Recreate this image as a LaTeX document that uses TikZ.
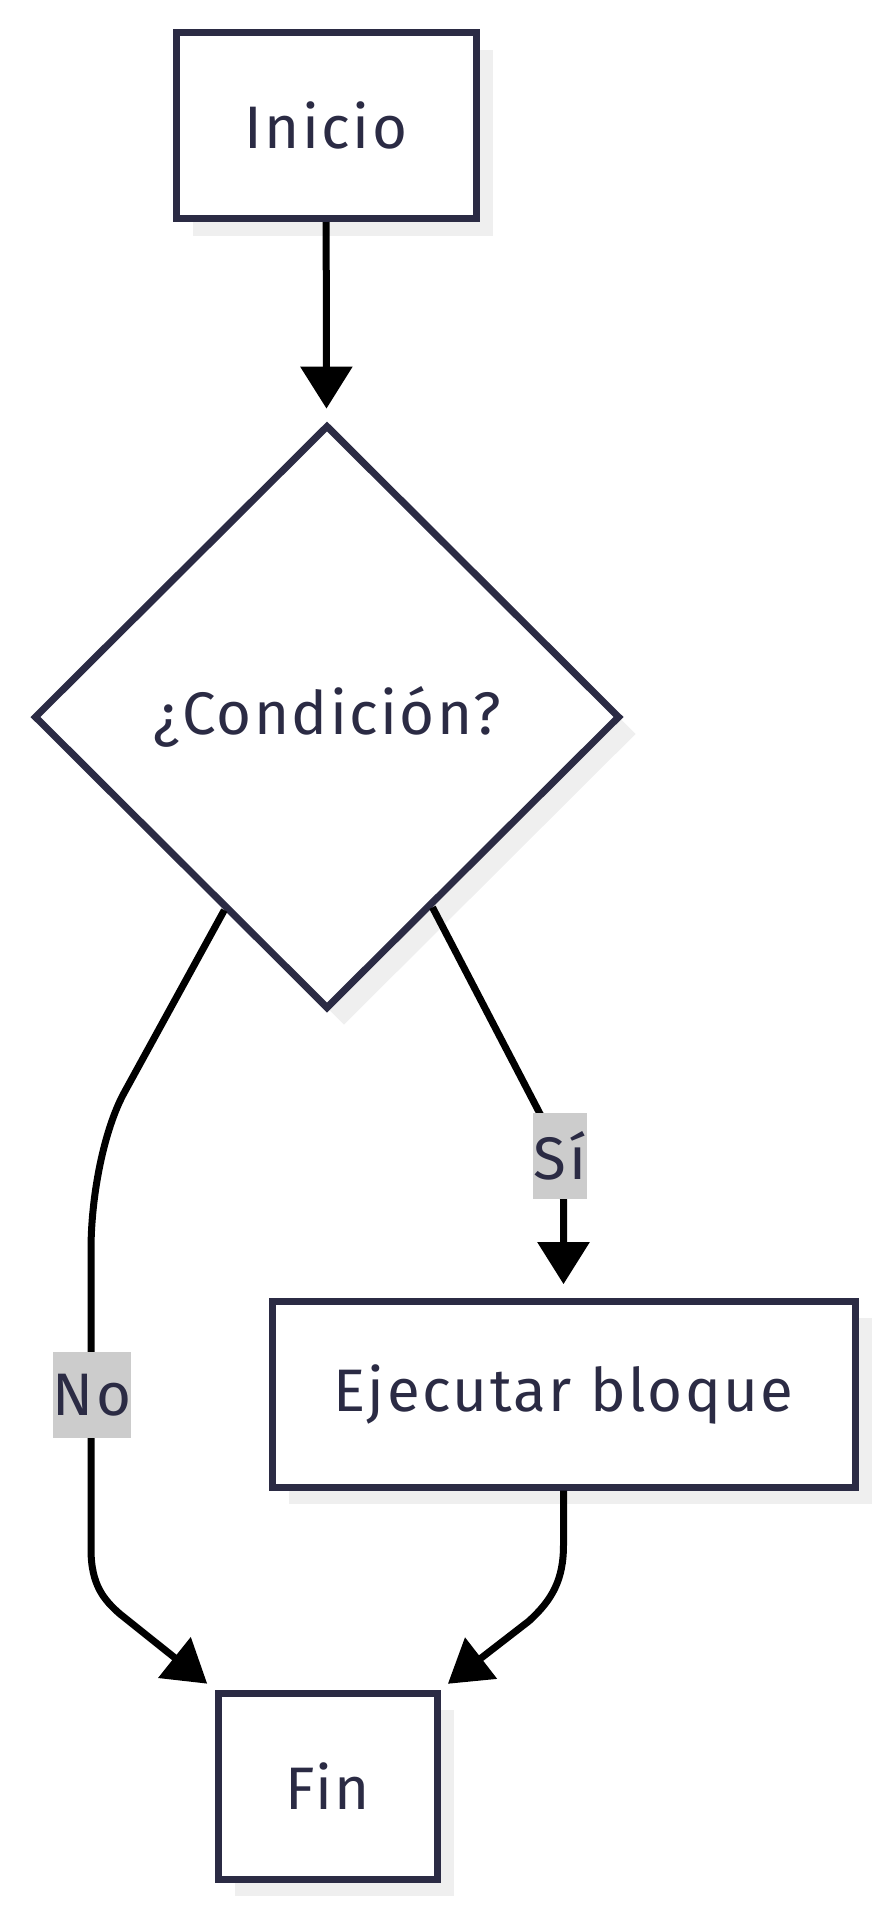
\documentclass[tikz,border=0pt]{standalone}
\usepackage{fontspec}
\setmainfont{Fira Sans}[LetterSpace=4]
\usepackage{tikz}
\usetikzlibrary{arrows.meta, shapes.geometric, shadows}
\definecolor{navy}{HTML}{2B2B44}
\definecolor{labelgrey}{HTML}{CCCCCC}
\definecolor{shadowgrey}{HTML}{EFEFEF}

\begin{document}
\begin{tikzpicture}[
    x=0.75pt,y=-0.75pt,
    >={Triangle[length=31.5pt,width=38pt]},
    font=\fontsize{45pt}{52pt}\selectfont,
    shade/.style={drop shadow={shadow xshift=12.75pt,shadow yshift=-12.75pt,fill=shadowgrey,opacity=1}},
    process/.style={draw=navy,fill=white,line width=5.25pt,text=navy,minimum height=139.5pt,inner sep=0pt,shade},
    decision/.style={diamond,draw=navy,fill=white,line width=5.25pt,text=navy,inner sep=0pt,shade},
    edge/.style={draw=black,line width=5.25pt,->},
    edgelabel/.style={fill=labelgrey,text=navy,minimum height=64.5pt,inner sep=0pt}
]
\useasboundingbox (0,0) rectangle (888,1920);

% Flowchart blocks.
\node[process,minimum width=225pt] (inicio) at (326,125.5) {Inicio};
\node[decision,minimum width=439.5pt,minimum height=438pt] (cond) at (327,717) {¿Condición?};
\node[process,minimum width=437.25pt] (ejec) at (563.5,1394) {Ejecutar bloque};
\node[process,minimum width=164.25pt] (fin) at (327.5,1786) {Fin};

% Connectors; the branches bend before reaching their targets.
\draw[edge,shorten >=10pt] (inicio) -- (cond);
\draw[edge,shorten >=10pt] (cond.299) -- (537,1108)
    .. controls (550,1133) and (563.5,1160) .. (563.5,1200) -- (ejec.north);
\draw[edge,shorten >=7pt] (cond.242) -- (124,1093)
    .. controls (104,1130) and (91,1195) .. (91,1250) -- (91,1549)
    .. controls (91,1585) and (104,1600) .. (120,1614) -- (fin.north west);
\draw[edge,shorten >=7pt] (ejec.south) -- (563.5,1545)
    .. controls (563.5,1580) and (552,1600) .. (529,1621) -- (fin.north east);

% Branch labels sit on top of the lines.
\node[edgelabel,minimum width=40.5pt] (lblsi) at (560,1156) {Sí};
\node[edgelabel,minimum width=55.5pt] (lblno) at (92,1395) {No};
\end{tikzpicture}
\end{document}
